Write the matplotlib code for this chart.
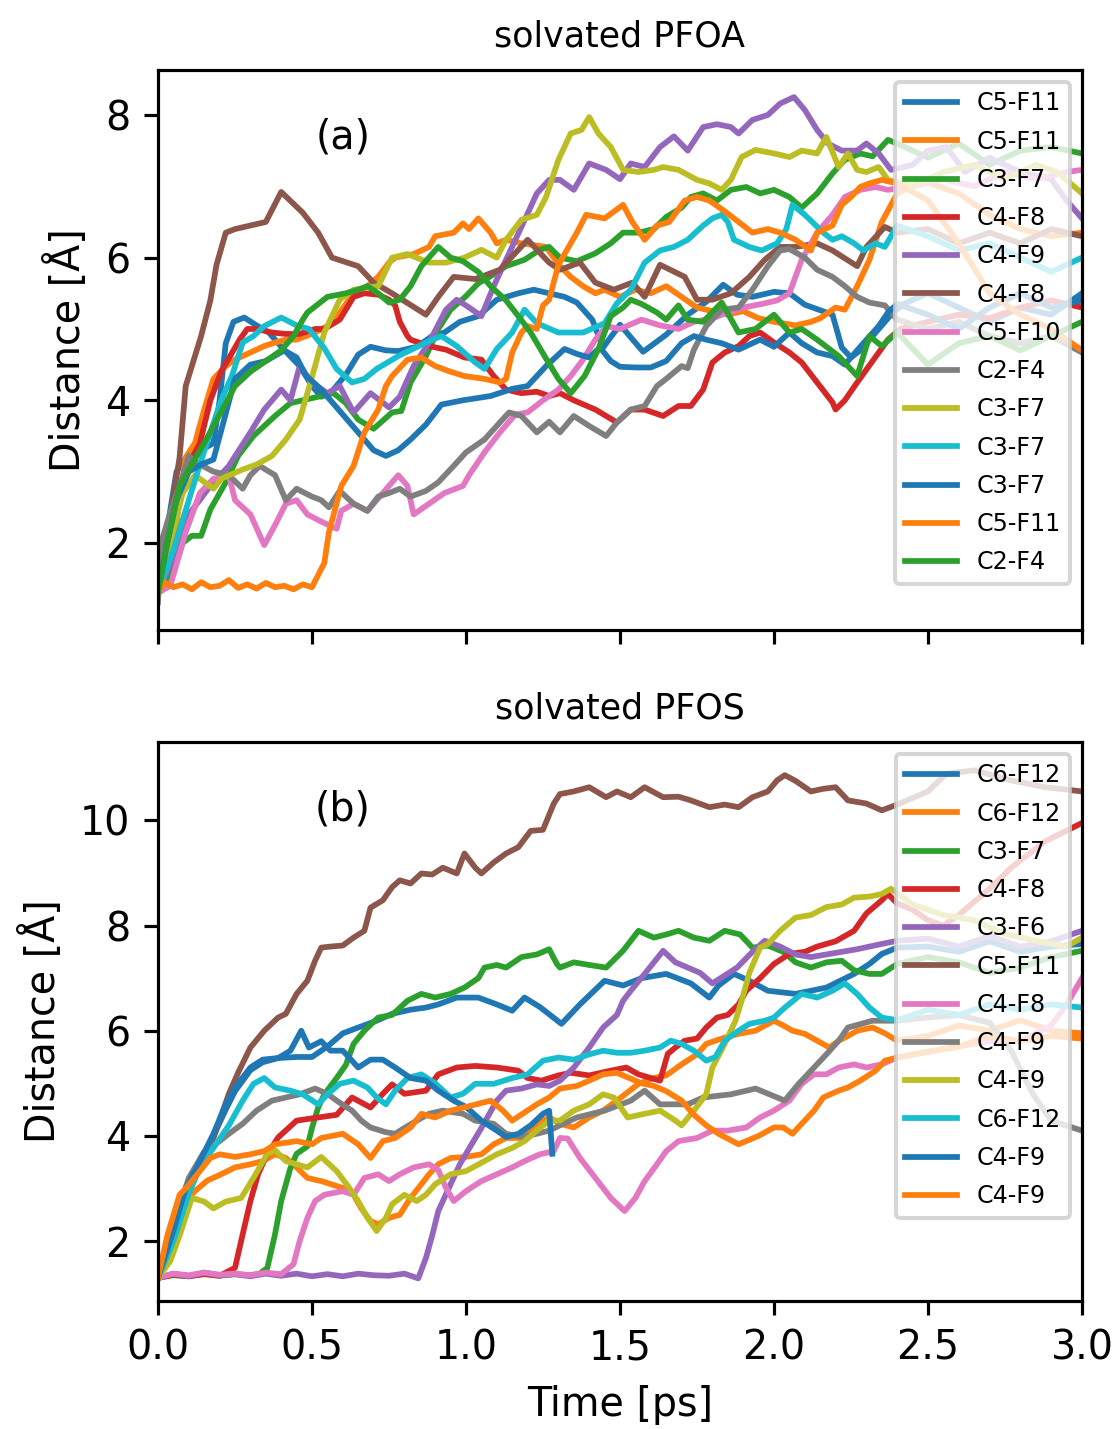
import matplotlib
matplotlib.use("Agg")
import matplotlib.pyplot as plt

# ---------------- PFOA (top) ----------------
a_labels = ["C5-F11", "C5-F11", "C3-F7", "C4-F8", "C4-F9", "C4-F8", "C5-F10",
            "C2-F4", "C3-F7", "C3-F7", "C3-F7", "C5-F11", "C2-F4"]

a01_t = [0, 0.03, 0.06, 0.1, 0.14, 0.18, 0.2, 0.22, 0.245, 0.28, 0.32, 0.36, 0.40, 0.46, 0.5, 0.53, 0.56, 0.61, 0.65, 0.69, 0.74, 0.78, 0.84, 0.89, 0.93, 0.98, 1.04, 1.10, 1.17, 1.22, 1.27, 1.32, 1.36, 1.41, 1.445, 1.5, 1.575, 1.65, 1.72, 1.78, 1.835, 1.88, 1.93, 2.0, 2.05, 2.1, 2.19, 2.22, 2.25, 2.28, 2.33, 2.38, 2.42, 2.5, 2.6, 2.7, 2.8, 2.9, 3.0]
a01_y = [1.3, 2.2, 3.0, 3.25, 3.3, 3.4, 4.0, 4.8, 5.1, 5.16, 5.05, 4.95, 4.75, 4.48, 4.2, 4.05, 4.1, 4.36, 4.64, 4.75, 4.7, 4.69, 4.75, 4.9, 4.95, 5.1, 5.18, 5.41, 5.5, 5.55, 5.5, 5.45, 5.37, 5.13, 4.74, 5.06, 4.68, 4.92, 5.2, 5.38, 5.62, 5.48, 5.45, 5.52, 5.5, 5.34, 5.2, 4.74, 4.6, 4.7, 4.95, 5.2, 5.35, 5.5, 5.3, 5.1, 5.3, 5.2, 5.5]

a02_t = [0, 0.04, 0.07, 0.09, 0.12, 0.15, 0.18, 0.22, 0.25, 0.3, 0.345, 0.38, 0.415, 0.45, 0.51, 0.55, 0.59, 0.635, 0.68, 0.715, 0.75, 0.77, 0.83, 0.88, 0.9, 0.96, 0.99, 1.01, 1.04, 1.08, 1.10, 1.13, 1.18, 1.26, 1.305, 1.34, 1.38, 1.42, 1.45, 1.5, 1.55, 1.6, 1.65, 1.7, 1.75, 1.8, 1.85, 1.9, 1.95, 2.0, 2.07, 2.12, 2.15, 2.2, 2.23, 2.27, 2.31, 2.35, 2.40, 2.45, 2.5, 2.6, 2.7, 2.8, 2.9, 3.0]
a02_y = [1.3, 1.6, 2.6, 3.2, 3.4, 3.87, 4.3, 4.48, 4.57, 4.67, 4.76, 4.81, 4.85, 4.85, 4.95, 5.04, 5.23, 5.5, 5.6, 5.73, 5.93, 6.0, 6.05, 6.15, 6.3, 6.35, 6.48, 6.4, 6.55, 6.35, 6.2, 6.25, 6.2, 6.15, 5.88, 5.73, 5.6, 5.5, 5.55, 5.45, 5.55, 5.5, 5.6, 5.45, 5.3, 5.25, 5.2, 5.25, 5.15, 5.1, 5.05, 5.1, 5.15, 5.3, 5.27, 5.6, 5.97, 6.5, 6.9, 7.0, 7.05, 6.9, 6.6, 6.4, 6.3, 6.35]

a03_t = [0, 0.05, 0.08, 0.11, 0.14, 0.17, 0.22, 0.26, 0.31, 0.38, 0.43, 0.47, 0.53, 0.57, 0.61, 0.65, 0.70, 0.76, 0.79, 0.82, 0.87, 0.91, 0.95, 1.0, 1.04, 1.08, 1.13, 1.19, 1.24, 1.27, 1.305, 1.36, 1.42, 1.47, 1.51, 1.56, 1.61, 1.65, 1.70, 1.73, 1.77, 1.815, 1.86, 1.91, 1.955, 2.0, 2.05, 2.09, 2.14, 2.19, 2.23, 2.28, 2.32, 2.37, 2.40, 2.5, 2.6, 2.7, 2.8, 2.9, 3.0]
a03_y = [1.3, 1.6, 2.0, 2.1, 2.1, 2.47, 2.85, 3.22, 3.5, 3.78, 3.96, 4.0, 4.06, 4.1, 3.96, 3.73, 3.6, 3.83, 3.85, 4.25, 4.62, 5.0, 5.27, 5.46, 5.64, 5.74, 5.88, 5.97, 6.11, 6.15, 6.0, 5.95, 6.06, 6.2, 6.35, 6.35, 6.4, 6.57, 6.7, 6.85, 6.9, 6.8, 6.95, 6.99, 6.9, 6.95, 6.85, 6.7, 6.9, 7.18, 7.37, 7.46, 7.42, 7.65, 7.6, 7.4, 7.6, 7.3, 7.5, 7.55, 7.46]

a04_t = [0, 0.05, 0.1, 0.136, 0.17, 0.205, 0.265, 0.29, 0.32, 0.37, 0.415, 0.46, 0.51, 0.54, 0.59, 0.635, 0.67, 0.715, 0.75, 0.77, 0.785, 0.81, 0.82, 0.88, 0.935, 0.995, 1.05, 1.09, 1.13, 1.18, 1.23, 1.27, 1.305, 1.35, 1.42, 1.49, 1.535, 1.58, 1.64, 1.69, 1.73, 1.77, 1.80, 1.84, 1.885, 1.92, 1.955, 2.0, 2.05, 2.09, 2.14, 2.19, 2.20, 2.23, 2.27, 2.30, 2.34, 2.37, 2.41, 2.5, 2.6, 2.7, 2.8, 2.9, 3.0]
a04_y = [1.3, 2.2, 3.1, 3.4, 4.0, 4.4, 4.85, 5.0, 5.0, 4.95, 4.93, 4.93, 5.0, 5.0, 5.13, 5.45, 5.5, 5.48, 5.41, 5.33, 5.1, 4.9, 4.85, 4.76, 4.71, 4.6, 4.57, 4.34, 4.15, 4.1, 4.12, 4.06, 4.1, 4.0, 3.87, 3.69, 3.87, 3.87, 3.78, 3.92, 3.92, 4.15, 4.53, 4.67, 4.76, 4.9, 4.95, 4.81, 4.67, 4.53, 4.25, 3.97, 3.87, 4.0, 4.25, 4.43, 4.67, 4.85, 5.0, 5.1, 5.2, 5.15, 5.3, 5.4, 5.3]

a05_t = [0, 0.05, 0.1, 0.17, 0.23, 0.30, 0.345, 0.40, 0.43, 0.46, 0.50, 0.55, 0.59, 0.635, 0.69, 0.75, 0.785, 0.83, 0.88, 0.935, 0.97, 1.0, 1.05, 1.09, 1.13, 1.18, 1.23, 1.27, 1.305, 1.35, 1.40, 1.455, 1.50, 1.535, 1.58, 1.63, 1.675, 1.72, 1.77, 1.815, 1.86, 1.885, 1.93, 1.98, 2.02, 2.065, 2.10, 2.14, 2.175, 2.22, 2.27, 2.30, 2.34, 2.38, 2.45, 2.5, 2.56, 2.62, 2.7, 2.8, 2.9, 2.95, 3.0]
a05_y = [1.3, 1.8, 2.4, 2.8, 3.08, 3.55, 3.87, 4.15, 4.0, 4.48, 4.25, 4.1, 4.2, 3.83, 4.1, 3.9, 4.05, 4.48, 4.81, 5.27, 5.41, 5.33, 5.18, 5.6, 5.97, 6.43, 6.9, 7.09, 7.09, 6.95, 7.32, 7.23, 7.1, 7.32, 7.27, 7.55, 7.7, 7.5, 7.83, 7.87, 7.83, 7.74, 7.93, 8.0, 8.16, 8.25, 8.07, 7.79, 7.6, 7.5, 7.5, 7.6, 7.46, 7.23, 7.3, 7.5, 7.55, 7.2, 7.4, 7.2, 7.1, 6.8, 6.55]

a06_t = [0, 0.03, 0.07, 0.09, 0.14, 0.17, 0.19, 0.22, 0.25, 0.3, 0.35, 0.40, 0.47, 0.52, 0.565, 0.65, 0.70, 0.76, 0.87, 0.91, 0.96, 1.03, 1.11, 1.2, 1.27, 1.305, 1.37, 1.42, 1.48, 1.54, 1.58, 1.63, 1.71, 1.75, 1.8, 1.86, 1.92, 1.97, 2.02, 2.07, 2.14, 2.19, 2.27, 2.30, 2.36, 2.40, 2.5, 2.6, 2.7, 2.8, 2.9, 3.0]
a06_y = [1.3, 2.1, 3.2, 4.2, 4.9, 5.4, 5.9, 6.35, 6.4, 6.45, 6.5, 6.92, 6.63, 6.35, 6.0, 5.88, 5.65, 5.5, 5.2, 5.45, 5.73, 5.7, 5.83, 6.25, 5.93, 5.83, 5.93, 5.65, 5.55, 5.65, 5.45, 5.9, 5.73, 5.41, 5.41, 5.5, 5.73, 5.97, 6.15, 6.15, 6.2, 6.1, 5.88, 6.15, 6.43, 6.35, 6.4, 6.2, 6.35, 6.2, 6.4, 6.3]

a07_t = [0, 0.04, 0.09, 0.136, 0.18, 0.23, 0.25, 0.3, 0.345, 0.38, 0.415, 0.45, 0.485, 0.53, 0.58, 0.595, 0.635, 0.68, 0.73, 0.78, 0.81, 0.83, 0.88, 0.93, 0.99, 1.01, 1.06, 1.11, 1.16, 1.2, 1.25, 1.30, 1.34, 1.38, 1.42, 1.455, 1.5, 1.57, 1.63, 1.69, 1.74, 1.8, 1.85, 1.9, 1.96, 2.01, 2.05, 2.09, 2.14, 2.19, 2.23, 2.28, 2.33, 2.37, 2.45, 2.55, 2.65, 2.75, 2.85, 2.95, 3.0]
a07_y = [1.3, 1.4, 2.15, 2.7, 2.9, 2.95, 2.6, 2.4, 1.97, 2.25, 2.55, 2.6, 2.4, 2.3, 2.2, 2.45, 2.55, 2.45, 2.7, 2.95, 2.8, 2.4, 2.55, 2.7, 2.8, 2.95, 3.27, 3.55, 3.8, 3.83, 4.0, 4.15, 4.34, 4.57, 4.85, 5.04, 5.0, 5.13, 5.05, 5.0, 5.1, 5.15, 5.23, 5.3, 5.35, 5.4, 5.5, 5.97, 6.35, 6.6, 6.85, 6.95, 6.99, 6.95, 7.0, 7.1, 7.0, 7.2, 7.1, 7.2, 7.23]

a08_t = [0, 0.01, 0.04, 0.07, 0.1, 0.136, 0.18, 0.23, 0.275, 0.3, 0.33, 0.38, 0.415, 0.45, 0.5, 0.53, 0.555, 0.59, 0.635, 0.68, 0.715, 0.75, 0.785, 0.82, 0.87, 0.91, 0.96, 1.0, 1.06, 1.11, 1.14, 1.18, 1.23, 1.27, 1.305, 1.35, 1.40, 1.455, 1.49, 1.535, 1.58, 1.62, 1.65, 1.70, 1.72, 1.74, 1.78, 1.83, 1.885, 1.93, 1.98, 2.02, 2.05, 2.10, 2.14, 2.19, 2.23, 2.27, 2.31, 2.36, 2.40, 2.5, 2.6, 2.7, 2.8, 2.9, 3.0]
a08_y = [1.17, 2.0, 2.43, 2.8, 3.22, 3.1, 3.0, 2.95, 2.76, 2.95, 3.08, 2.95, 2.6, 2.76, 2.65, 2.6, 2.5, 2.73, 2.55, 2.45, 2.65, 2.7, 2.76, 2.65, 2.73, 2.85, 3.08, 3.27, 3.45, 3.69, 3.83, 3.78, 3.55, 3.7, 3.55, 3.78, 3.64, 3.5, 3.69, 3.87, 3.92, 4.2, 4.3, 4.48, 4.45, 4.71, 5.04, 5.27, 5.3, 5.55, 5.88, 6.1, 6.12, 6.0, 5.83, 5.73, 5.6, 5.45, 5.37, 5.33, 5.13, 5.0, 5.1, 4.9, 4.8, 4.9, 4.67]

a09_t = [0, 0.04, 0.08, 0.12, 0.136, 0.18, 0.205, 0.275, 0.32, 0.37, 0.415, 0.46, 0.485, 0.51, 0.54, 0.59, 0.635, 0.715, 0.76, 0.81, 0.88, 0.935, 0.995, 1.05, 1.10, 1.13, 1.18, 1.23, 1.26, 1.30, 1.34, 1.375, 1.40, 1.43, 1.47, 1.51, 1.56, 1.61, 1.64, 1.69, 1.75, 1.79, 1.83, 1.86, 1.895, 1.94, 2.0, 2.05, 2.09, 2.14, 2.17, 2.21, 2.24, 2.27, 2.30, 2.34, 2.37, 2.45, 2.55, 2.65, 2.75, 2.85, 2.92, 3.0]
a09_y = [1.3, 2.0, 2.7, 2.95, 2.9, 2.76, 2.9, 3.03, 3.1, 3.22, 3.45, 3.73, 4.1, 4.48, 4.95, 5.41, 5.55, 5.6, 6.0, 6.05, 5.93, 5.93, 6.0, 6.11, 6.0, 6.25, 6.53, 6.6, 6.85, 7.37, 7.74, 7.79, 7.97, 7.74, 7.55, 7.23, 7.2, 7.23, 7.27, 7.23, 7.09, 7.04, 6.95, 7.09, 7.41, 7.51, 7.46, 7.41, 7.5, 7.46, 7.69, 7.27, 7.46, 7.23, 7.2, 7.27, 7.09, 7.0, 7.2, 7.3, 7.1, 7.3, 7.2, 6.9]

a10_t = [0, 0.05, 0.1, 0.136, 0.17, 0.205, 0.24, 0.275, 0.31, 0.345, 0.40, 0.45, 0.49, 0.54, 0.58, 0.63, 0.67, 0.71, 0.78, 0.87, 0.92, 0.97, 1.03, 1.06, 1.10, 1.15, 1.19, 1.23, 1.3, 1.38, 1.45, 1.49, 1.535, 1.58, 1.63, 1.675, 1.72, 1.77, 1.80, 1.83, 1.85, 1.87, 1.92, 1.96, 2.01, 2.04, 2.06, 2.1, 2.16, 2.19, 2.22, 2.26, 2.29, 2.33, 2.36, 2.40, 2.5, 2.6, 2.7, 2.8, 2.9, 3.0]
a10_y = [1.3, 1.9, 2.6, 3.1, 3.55, 4.0, 4.34, 4.81, 4.9, 5.04, 5.16, 5.05, 5.0, 4.73, 4.44, 4.25, 4.3, 4.44, 4.62, 4.81, 4.9, 4.76, 4.53, 4.44, 4.72, 4.95, 5.27, 5.08, 4.95, 4.95, 5.08, 5.36, 5.55, 5.93, 6.1, 6.15, 6.25, 6.45, 6.55, 6.6, 6.5, 6.25, 6.15, 6.1, 6.2, 6.4, 6.74, 6.6, 6.35, 6.25, 6.3, 6.2, 6.1, 6.2, 6.15, 6.45, 6.3, 6.1, 6.2, 6.0, 5.8, 6.0]

a11_t = [0, 0.03, 0.06, 0.1, 0.14, 0.18, 0.25, 0.3, 0.35, 0.41, 0.45, 0.48, 0.53, 0.58, 0.62, 0.65, 0.7, 0.74, 0.78, 0.82, 0.87, 0.92, 0.99, 1.08, 1.15, 1.2, 1.26, 1.32, 1.36, 1.40, 1.435, 1.47, 1.5, 1.55, 1.6, 1.65, 1.7, 1.74, 1.78, 1.83, 1.885, 1.955, 2.0, 2.05, 2.09, 2.14, 2.19, 2.23, 2.28, 2.34, 2.37, 2.40, 2.5, 2.6, 2.7, 2.8, 2.9, 3.0]
a11_y = [1.3, 2.0, 2.6, 3.0, 3.1, 3.17, 4.3, 4.5, 4.55, 4.7, 4.6, 4.35, 4.15, 3.9, 3.7, 3.55, 3.3, 3.22, 3.3, 3.45, 3.66, 3.94, 4.0, 4.06, 4.16, 4.2, 4.48, 4.72, 4.65, 4.6, 4.74, 4.55, 4.47, 4.46, 4.46, 4.55, 4.8, 4.9, 4.85, 4.8, 4.71, 4.85, 4.75, 4.95, 4.8, 4.67, 4.62, 4.5, 4.75, 5.04, 5.23, 5.35, 5.2, 5.0, 5.3, 5.5, 5.3, 5.4]

a12_t = [0, 0.02, 0.05, 0.08, 0.11, 0.14, 0.17, 0.2, 0.23, 0.26, 0.29, 0.32, 0.35, 0.38, 0.41, 0.44, 0.47, 0.5, 0.52, 0.54, 0.555, 0.595, 0.635, 0.67, 0.715, 0.74, 0.76, 0.81, 0.855, 0.9, 0.95, 0.995, 1.06, 1.11, 1.13, 1.15, 1.18, 1.2, 1.23, 1.25, 1.27, 1.30, 1.36, 1.39, 1.45, 1.51, 1.54, 1.58, 1.62, 1.66, 1.71, 1.75, 1.79, 1.84, 1.885, 1.93, 1.98, 2.02, 2.07, 2.12, 2.14, 2.19, 2.22, 2.25, 2.28, 2.31, 2.35, 2.40, 2.5, 2.6, 2.7, 2.8, 2.9, 3.0]
a12_y = [1.3, 1.45, 1.38, 1.42, 1.35, 1.45, 1.38, 1.4, 1.48, 1.37, 1.42, 1.36, 1.44, 1.38, 1.4, 1.35, 1.42, 1.38, 1.55, 1.72, 2.15, 2.8, 3.08, 3.55, 3.87, 4.2, 4.34, 4.57, 4.6, 4.48, 4.4, 4.34, 4.3, 4.25, 4.3, 4.67, 4.95, 5.04, 5.0, 5.33, 5.41, 5.9, 6.35, 6.6, 6.55, 6.74, 6.5, 6.25, 6.45, 6.5, 6.8, 6.85, 6.8, 6.65, 6.5, 6.35, 6.4, 6.35, 6.25, 6.1, 6.35, 6.45, 6.74, 6.85, 6.99, 7.04, 7.09, 7.04, 6.8, 6.2, 5.5, 5.2, 5.0, 4.7]

a13_t = [0, 0.03, 0.07, 0.11, 0.15, 0.2, 0.25, 0.3, 0.35, 0.40, 0.44, 0.47, 0.485, 0.55, 0.61, 0.65, 0.68, 0.715, 0.75, 0.785, 0.82, 0.855, 0.91, 0.95, 0.99, 1.04, 1.08, 1.13, 1.17, 1.21, 1.255, 1.3, 1.34, 1.385, 1.43, 1.47, 1.51, 1.535, 1.57, 1.62, 1.65, 1.69, 1.72, 1.77, 1.83, 1.885, 1.94, 2.0, 2.05, 2.09, 2.14, 2.21, 2.27, 2.31, 2.35, 2.40, 2.5, 2.6, 2.7, 2.8, 2.9, 3.0]
a13_y = [1.3, 2.0, 2.8, 3.1, 3.4, 3.8, 4.2, 4.4, 4.55, 4.7, 4.9, 5.13, 5.23, 5.45, 5.5, 5.55, 5.6, 5.5, 5.37, 5.41, 5.6, 5.88, 6.15, 6.0, 5.95, 5.8, 5.6, 5.4, 5.18, 4.95, 4.62, 4.3, 4.1, 4.34, 4.72, 5.18, 5.3, 5.41, 5.35, 5.23, 5.13, 5.33, 5.13, 5.1, 5.37, 4.95, 5.0, 5.2, 4.95, 5.0, 4.85, 4.62, 4.34, 4.9, 4.76, 4.95, 4.5, 4.8, 4.9, 4.7, 4.9, 5.1]

# ---------------- PFOS (bottom) ----------------
b_labels = ["C6-F12", "C6-F12", "C3-F7", "C4-F8", "C3-F6", "C5-F11", "C4-F8",
            "C4-F9", "C4-F9", "C6-F12", "C4-F9", "C4-F9"]

b01_t = [0, 0.05, 0.09, 0.136, 0.18, 0.22, 0.25, 0.3, 0.34, 0.39, 0.45, 0.5, 0.55, 0.6, 0.65, 0.71, 0.76, 0.82, 0.87, 0.91, 0.97, 1.04, 1.1, 1.15, 1.19, 1.24, 1.31, 1.37, 1.45, 1.51, 1.57, 1.65, 1.73, 1.79, 1.82, 1.87, 1.92, 1.98, 2.07, 2.17, 2.26, 2.31, 2.35, 2.40, 2.5, 2.6, 2.7, 2.8, 2.9, 3.0]
b01_y = [1.3, 2.1, 2.9, 3.5, 4.0, 4.5, 4.85, 5.25, 5.4, 5.48, 5.5, 5.5, 5.7, 5.95, 6.06, 6.19, 6.32, 6.4, 6.44, 6.5, 6.63, 6.63, 6.5, 6.38, 6.63, 6.45, 6.13, 6.5, 6.95, 6.86, 7.0, 7.08, 6.9, 6.63, 6.86, 7.08, 6.95, 6.76, 6.7, 6.82, 7.08, 7.27, 7.46, 7.58, 7.6, 7.5, 7.7, 7.5, 7.6, 7.65]

b02_t = [0, 0.04, 0.08, 0.12, 0.16, 0.205, 0.25, 0.3, 0.34, 0.38, 0.415, 0.45, 0.485, 0.53, 0.6, 0.635, 0.66, 0.69, 0.715, 0.75, 0.785, 0.82, 0.855, 0.88, 0.91, 0.95, 1.0, 1.05, 1.09, 1.13, 1.18, 1.23, 1.27, 1.305, 1.35, 1.40, 1.445, 1.49, 1.56, 1.61, 1.65, 1.70, 1.75, 1.78, 1.84, 1.885, 1.94, 2.0, 2.03, 2.06, 2.1, 2.14, 2.18, 2.21, 2.24, 2.27, 2.32, 2.36, 2.40, 2.5, 2.6, 2.7, 2.8, 2.9, 3.0]
b02_y = [1.3, 2.0, 2.7, 2.95, 3.15, 3.27, 3.4, 3.46, 3.52, 3.65, 3.58, 3.4, 3.2, 3.14, 3.01, 2.88, 2.62, 2.38, 2.32, 2.44, 2.5, 2.82, 3.08, 3.27, 3.46, 3.58, 3.6, 3.65, 3.84, 3.96, 3.96, 4.23, 4.35, 4.23, 4.16, 4.35, 4.48, 4.67, 4.99, 5.1, 5.15, 5.36, 5.55, 5.75, 5.87, 5.94, 6.0, 6.19, 6.1, 6.0, 5.94, 5.81, 5.68, 5.81, 5.9, 6.0, 6.06, 5.95, 5.81, 5.9, 6.1, 6.0, 6.2, 6.0, 5.95]

b03_t = [0, 0.05, 0.1, 0.15, 0.2, 0.25, 0.3, 0.33, 0.355, 0.38, 0.40, 0.43, 0.45, 0.485, 0.50, 0.52, 0.54, 0.58, 0.61, 0.635, 0.67, 0.715, 0.76, 0.81, 0.855, 0.9, 0.95, 0.995, 1.04, 1.06, 1.1, 1.13, 1.18, 1.23, 1.27, 1.295, 1.305, 1.35, 1.40, 1.455, 1.51, 1.56, 1.61, 1.65, 1.69, 1.74, 1.79, 1.84, 1.89, 1.93, 1.98, 2.03, 2.07, 2.12, 2.17, 2.22, 2.26, 2.31, 2.35, 2.40, 2.5, 2.6, 2.7, 2.8, 2.9, 3.0]
b03_y = [1.3, 1.35, 1.33, 1.38, 1.34, 1.37, 1.35, 1.38, 1.49, 2.13, 2.76, 3.39, 3.66, 3.8, 4.15, 4.54, 4.79, 5.1, 5.35, 5.75, 6.0, 6.25, 6.3, 6.57, 6.7, 6.63, 6.7, 6.82, 7.0, 7.2, 7.25, 7.2, 7.4, 7.45, 7.55, 7.27, 7.2, 7.3, 7.25, 7.2, 7.52, 7.9, 7.77, 7.83, 7.9, 7.77, 7.71, 7.9, 7.83, 7.58, 7.62, 7.5, 7.3, 7.2, 7.3, 7.33, 7.15, 7.08, 7.08, 7.27, 7.4, 7.3, 7.1, 7.2, 7.4, 7.52]

b04_t = [0, 0.05, 0.1, 0.15, 0.2, 0.25, 0.275, 0.30, 0.325, 0.35, 0.39, 0.45, 0.52, 0.58, 0.63, 0.69, 0.73, 0.76, 0.8, 0.87, 0.91, 0.97, 1.03, 1.1, 1.17, 1.2, 1.245, 1.3, 1.34, 1.40, 1.47, 1.52, 1.56, 1.6, 1.63, 1.655, 1.68, 1.71, 1.75, 1.78, 1.815, 1.85, 1.885, 1.91, 1.955, 2.0, 2.05, 2.1, 2.14, 2.2, 2.26, 2.30, 2.35, 2.37, 2.40, 2.45, 2.5, 2.55, 2.6, 2.7, 2.77, 2.88, 3.0]
b04_y = [1.3, 1.36, 1.33, 1.37, 1.34, 1.49, 2.13, 2.76, 3.27, 3.6, 3.97, 4.29, 4.35, 4.4, 4.73, 4.54, 4.8, 4.98, 4.8, 4.86, 5.17, 5.3, 5.33, 5.3, 5.24, 5.1, 5.05, 5.15, 5.2, 5.15, 5.24, 5.3, 5.17, 5.1, 5.05, 5.56, 5.68, 5.81, 5.85, 6.06, 6.25, 6.3, 6.5, 6.76, 7.0, 7.27, 7.46, 7.5, 7.6, 7.7, 7.9, 8.23, 8.48, 8.6, 8.42, 8.3, 8.1, 8.0, 8.2, 8.7, 9.1, 9.6, 9.95]

b05_t = [0, 0.05, 0.1, 0.15, 0.2, 0.25, 0.3, 0.35, 0.4, 0.45, 0.5, 0.55, 0.6, 0.65, 0.7, 0.75, 0.8, 0.845, 0.87, 0.89, 0.91, 0.95, 0.98, 1.0, 1.05, 1.10, 1.13, 1.18, 1.23, 1.27, 1.305, 1.35, 1.40, 1.445, 1.49, 1.51, 1.535, 1.58, 1.64, 1.68, 1.72, 1.76, 1.80, 1.84, 1.88, 1.93, 1.97, 2.02, 2.07, 2.12, 2.17, 2.22, 2.27, 2.31, 2.35, 2.40, 2.5, 2.6, 2.7, 2.8, 2.9, 3.0]
b05_y = [1.3, 1.38, 1.33, 1.4, 1.35, 1.37, 1.33, 1.38, 1.34, 1.38, 1.33, 1.37, 1.33, 1.38, 1.35, 1.34, 1.38, 1.29, 1.68, 2.1, 2.57, 3.08, 3.46, 3.66, 4.15, 4.67, 4.86, 4.9, 4.98, 4.95, 5.05, 5.3, 5.68, 6.06, 6.3, 6.57, 6.76, 7.08, 7.52, 7.3, 7.2, 7.1, 6.9, 7.05, 7.2, 7.5, 7.71, 7.6, 7.45, 7.4, 7.45, 7.5, 7.55, 7.6, 7.65, 7.71, 7.75, 7.6, 7.8, 7.6, 7.7, 7.9]

b06_t = [0, 0.05, 0.11, 0.18, 0.23, 0.26, 0.30, 0.345, 0.39, 0.415, 0.45, 0.485, 0.51, 0.53, 0.56, 0.6, 0.635, 0.67, 0.69, 0.73, 0.76, 0.785, 0.82, 0.855, 0.89, 0.925, 0.97, 0.995, 1.03, 1.05, 1.09, 1.13, 1.17, 1.21, 1.25, 1.285, 1.305, 1.35, 1.40, 1.455, 1.49, 1.535, 1.58, 1.64, 1.69, 1.73, 1.79, 1.84, 1.885, 1.93, 1.98, 2.01, 2.035, 2.07, 2.12, 2.16, 2.20, 2.24, 2.3, 2.35, 2.4, 2.5, 2.56, 2.65, 2.77, 2.88, 3.0]
b06_y = [1.3, 2.2, 3.27, 3.96, 4.8, 5.2, 5.68, 6.0, 6.25, 6.32, 6.7, 6.95, 7.33, 7.58, 7.6, 7.62, 7.77, 7.9, 8.34, 8.48, 8.73, 8.86, 8.8, 8.99, 8.97, 9.1, 8.99, 9.37, 9.1, 8.99, 9.2, 9.37, 9.49, 9.8, 9.82, 10.32, 10.5, 10.55, 10.63, 10.44, 10.55, 10.44, 10.63, 10.44, 10.45, 10.38, 10.25, 10.3, 10.25, 10.44, 10.55, 10.76, 10.86, 10.75, 10.55, 10.6, 10.63, 10.38, 10.32, 10.19, 10.3, 10.55, 10.89, 10.95, 10.76, 10.63, 10.55]

b07_t = [0, 0.05, 0.1, 0.15, 0.2, 0.25, 0.3, 0.35, 0.4, 0.44, 0.46, 0.485, 0.51, 0.54, 0.6, 0.635, 0.67, 0.715, 0.75, 0.785, 0.83, 0.88, 0.91, 0.935, 0.96, 1.0, 1.05, 1.1, 1.15, 1.19, 1.24, 1.285, 1.305, 1.33, 1.37, 1.42, 1.47, 1.515, 1.55, 1.58, 1.62, 1.65, 1.69, 1.75, 1.80, 1.85, 1.91, 1.955, 2.0, 2.05, 2.09, 2.13, 2.17, 2.21, 2.26, 2.3, 2.35, 2.40, 2.5, 2.6, 2.7, 2.8, 2.9, 2.95, 3.0]
b07_y = [1.3, 1.38, 1.35, 1.4, 1.36, 1.38, 1.35, 1.4, 1.37, 1.56, 2.0, 2.44, 2.76, 2.88, 2.95, 2.88, 3.2, 3.27, 3.14, 3.27, 3.4, 3.46, 3.35, 3.01, 2.76, 2.95, 3.14, 3.27, 3.4, 3.52, 3.65, 3.71, 3.96, 3.95, 3.58, 3.2, 2.82, 2.57, 2.82, 3.14, 3.46, 3.71, 3.9, 3.96, 4.1, 4.1, 4.16, 4.35, 4.48, 4.67, 4.99, 5.17, 5.17, 5.3, 5.36, 5.3, 5.36, 5.49, 5.6, 5.7, 5.8, 5.8, 6.1, 6.5, 7.0]

b08_t = [0, 0.05, 0.1, 0.15, 0.2, 0.23, 0.275, 0.32, 0.37, 0.415, 0.46, 0.51, 0.55, 0.58, 0.63, 0.66, 0.69, 0.74, 0.77, 0.80, 0.84, 0.88, 0.925, 0.99, 1.03, 1.09, 1.13, 1.18, 1.23, 1.27, 1.305, 1.36, 1.45, 1.535, 1.58, 1.63, 1.72, 1.77, 1.86, 1.94, 2.035, 2.08, 2.13, 2.17, 2.21, 2.24, 2.32, 2.40, 2.5, 2.6, 2.7, 2.77, 2.84, 2.9, 3.0]
b08_y = [1.3, 2.3, 3.2, 3.7, 3.9, 4.04, 4.23, 4.48, 4.67, 4.73, 4.79, 4.9, 4.8, 4.67, 4.48, 4.29, 4.16, 4.07, 4.04, 4.15, 4.29, 4.42, 4.48, 4.42, 4.29, 4.23, 4.04, 3.98, 4.04, 4.1, 4.2, 4.35, 4.48, 4.67, 4.86, 4.6, 4.6, 4.73, 4.79, 4.9, 4.67, 4.99, 5.3, 5.55, 5.81, 6.06, 6.19, 6.19, 6.25, 6.3, 6.15, 5.62, 4.8, 4.29, 4.1]

b09_t = [0, 0.04, 0.07, 0.11, 0.15, 0.18, 0.22, 0.27, 0.31, 0.355, 0.38, 0.415, 0.45, 0.485, 0.53, 0.58, 0.62, 0.65, 0.68, 0.71, 0.74, 0.76, 0.80, 0.84, 0.87, 0.90, 0.95, 1.0, 1.06, 1.1, 1.15, 1.19, 1.23, 1.27, 1.305, 1.35, 1.40, 1.445, 1.48, 1.525, 1.58, 1.63, 1.68, 1.70, 1.74, 1.78, 1.80, 1.84, 1.875, 1.895, 1.92, 1.955, 1.98, 2.02, 2.07, 2.12, 2.17, 2.22, 2.26, 2.31, 2.35, 2.38, 2.45, 2.55, 2.65, 2.75, 2.85, 2.95, 3.0]
b09_y = [1.3, 1.62, 2.1, 2.82, 2.75, 2.62, 2.75, 2.82, 3.2, 3.66, 3.73, 3.52, 3.46, 3.4, 3.6, 3.33, 3.02, 2.76, 2.44, 2.19, 2.44, 2.7, 2.88, 2.76, 2.88, 3.08, 3.27, 3.33, 3.52, 3.65, 3.77, 3.9, 4.1, 4.29, 4.29, 4.48, 4.6, 4.79, 4.73, 4.35, 4.42, 4.48, 4.29, 4.2, 4.48, 4.79, 5.3, 5.75, 6.19, 6.57, 7.1, 7.58, 7.65, 7.9, 8.15, 8.2, 8.35, 8.4, 8.53, 8.55, 8.6, 8.7, 8.4, 8.2, 8.1, 7.84, 7.71, 7.6, 7.77]

b10_t = [0, 0.05, 0.1, 0.136, 0.18, 0.23, 0.275, 0.31, 0.345, 0.38, 0.43, 0.47, 0.52, 0.55, 0.59, 0.635, 0.68, 0.71, 0.74, 0.77, 0.81, 0.855, 0.9, 0.95, 0.99, 1.03, 1.09, 1.15, 1.20, 1.25, 1.30, 1.35, 1.40, 1.445, 1.49, 1.535, 1.58, 1.63, 1.665, 1.70, 1.74, 1.78, 1.81, 1.84, 1.885, 1.92, 1.97, 2.0, 2.035, 2.09, 2.14, 2.19, 2.23, 2.27, 2.31, 2.35, 2.40, 2.5, 2.6, 2.7, 2.8, 2.9, 3.0]
b10_y = [1.3, 2.0, 2.9, 3.4, 3.77, 4.2, 4.67, 4.99, 5.1, 4.92, 4.86, 4.79, 4.6, 4.79, 4.99, 5.05, 4.92, 4.73, 4.6, 4.86, 5.1, 5.17, 5.0, 4.73, 4.8, 4.99, 4.99, 5.1, 5.17, 5.43, 5.49, 5.45, 5.55, 5.62, 5.58, 5.58, 5.62, 5.68, 5.81, 5.75, 5.62, 5.43, 5.5, 5.81, 6.0, 6.13, 6.19, 6.25, 6.44, 6.7, 6.63, 6.76, 6.9, 6.7, 6.44, 6.25, 6.2, 6.4, 6.3, 6.5, 6.4, 6.5, 6.44]

b11_t = [0, 0.05, 0.09, 0.136, 0.18, 0.22, 0.25, 0.3, 0.34, 0.39, 0.43, 0.465, 0.49, 0.53, 0.56, 0.6, 0.65, 0.69, 0.73, 0.77, 0.82, 0.87, 0.91, 0.96, 1.0, 1.05, 1.10, 1.13, 1.17, 1.21, 1.25, 1.27, 1.28]
b11_y = [1.3, 2.2, 3.0, 3.52, 4.04, 4.6, 4.92, 5.3, 5.45, 5.48, 5.62, 6.0, 5.68, 5.8, 5.62, 5.62, 5.3, 5.45, 5.45, 5.3, 5.1, 5.05, 4.86, 4.67, 4.55, 4.29, 4.1, 3.98, 4.04, 4.2, 4.42, 4.48, 3.66]

b12_t = [0, 0.03, 0.07, 0.09, 0.136, 0.17, 0.2, 0.25, 0.3, 0.345, 0.38, 0.45, 0.5, 0.53, 0.6, 0.65, 0.69, 0.73, 0.77, 0.82, 0.855, 0.9, 0.95, 1.0, 1.08, 1.12, 1.15, 1.23, 1.27, 1.305, 1.36, 1.40, 1.445, 1.49, 1.53, 1.57, 1.61, 1.65, 1.7, 1.74, 1.78, 1.82, 1.885, 1.95, 2.0, 2.03, 2.06, 2.09, 2.13, 2.16, 2.21, 2.24, 2.28, 2.33, 2.36, 2.40, 2.5, 2.6, 2.7, 2.8, 2.9, 3.0]
b12_y = [1.3, 2.1, 2.88, 3.0, 3.33, 3.58, 3.65, 3.6, 3.65, 3.71, 3.84, 3.9, 3.84, 3.96, 4.04, 3.84, 3.58, 3.9, 3.96, 4.16, 4.42, 4.35, 4.48, 4.55, 4.67, 4.48, 4.29, 4.6, 4.73, 4.9, 4.95, 5.05, 5.17, 5.2, 5.1, 5.0, 4.95, 4.85, 4.67, 4.4, 4.2, 4.04, 3.84, 4.0, 4.16, 4.16, 4.04, 4.23, 4.48, 4.73, 4.86, 4.92, 5.05, 5.24, 5.43, 5.49, 5.6, 5.7, 5.9, 5.8, 5.9, 5.85]

pfoa = [(a01_t, a01_y), (a02_t, a02_y), (a03_t, a03_y), (a04_t, a04_y), (a05_t, a05_y),
        (a06_t, a06_y), (a07_t, a07_y), (a08_t, a08_y), (a09_t, a09_y), (a10_t, a10_y),
        (a11_t, a11_y), (a12_t, a12_y), (a13_t, a13_y)]
pfos = [(b01_t, b01_y), (b02_t, b02_y), (b03_t, b03_y), (b04_t, b04_y), (b05_t, b05_y),
        (b06_t, b06_y), (b07_t, b07_y), (b08_t, b08_y), (b09_t, b09_y), (b10_t, b10_y),
        (b11_t, b11_y), (b12_t, b12_y)]

colors = plt.rcParams['axes.prop_cycle'].by_key()['color']

DPI = 285
fig = plt.figure(figsize=(1119 / DPI, 1429 / DPI), dpi=DPI)
ax1 = fig.add_axes([158 / 1119, 1 - 630 / 1429, 924 / 1119, 560 / 1429])
ax2 = fig.add_axes([158 / 1119, 1 - 1301 / 1429, 924 / 1119, 559 / 1429], sharex=ax1)

for i, ((t, y), lab) in enumerate(zip(pfoa, a_labels)):
    ax1.plot(t, y, color=colors[i % 10], lw=1.45, label=lab)
for i, ((t, y), lab) in enumerate(zip(pfos, b_labels)):
    ax2.plot(t, y, color=colors[i % 10], lw=1.45, label=lab)

ax1.set_xlim(0, 3)
ax1.set_ylim(0.78, 8.63)
ax2.set_ylim(0.86, 11.49)
ax1.set_yticks([2, 4, 6, 8])
ax2.set_yticks([2, 4, 6, 8, 10])
ax2.set_xticks([0, 0.5, 1.0, 1.5, 2.0, 2.5, 3.0])
plt.setp(ax1.get_xticklabels(), visible=False)

for ax, ttl, tag in [(ax1, "solvated PFOA", "(a)"), (ax2, "solvated PFOS", "(b)")]:
    ax.set_title(ttl, fontsize=8.8)
    ax.set_ylabel("Distance [Å]", fontsize=10)
    ax.tick_params(labelsize=10)
    ax.text(0.2, 0.88, tag, transform=ax.transAxes, ha="center", va="center", fontsize=10)
    ax.legend(loc="upper right", fontsize=6, labelspacing=0.6, handlelength=2.2)

ax2.set_xlabel("Time [ps]", fontsize=10)

fig.savefig("out.png", dpi=DPI)
